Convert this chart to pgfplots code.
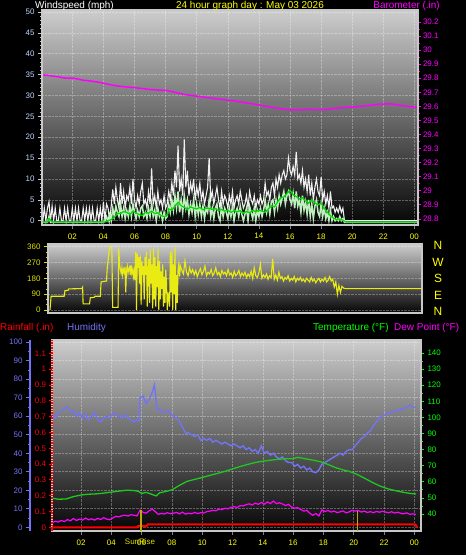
\documentclass[border=0pt]{standalone}
\usepackage{pgfplots}
\pgfplotsset{compat=1.18}
\usepackage{fontspec}
\setmainfont{Liberation Sans}
\definecolor{lgray}{RGB}{200,200,200}
\definecolor{tlblue}{RGB}{190,215,255}
\definecolor{yel}{RGB}{255,255,0}
\definecolor{yel2}{RGB}{222,222,0}
\definecolor{dirc}{RGB}{235,235,20}
\definecolor{mag}{RGB}{255,0,255}
\definecolor{hum}{RGB}{115,115,245}
\definecolor{tgreen}{RGB}{30,200,30}
\definecolor{lgreen}{RGB}{0,255,0}
\definecolor{palegreen}{RGB}{190,240,190}
\definecolor{avggreen}{RGB}{0,220,0}
\definecolor{sunc}{RGB}{190,170,0}
\definecolor{bgtop}{RGB}{205,205,205}
\definecolor{bgmid}{RGB}{90,90,90}
\definecolor{bgbot}{RGB}{5,5,5}
\pgfplotsset{
  mybase/.style={
    scale only axis, anchor=south west,
    /pgf/number format/assume math mode=true,
    ticklabel style={font=\fontsize{8}{9}\selectfont},
    tick align=outside,
    major tick length=4bp, minor tick length=2bp,
    grid style={densely dotted, white, opacity=0.3, line width=0.6bp},
  },
  bgA/.style={axis background/.style={shade, top color=bgtop, middle color=bgmid, bottom color=bgbot}},
}
\begin{document}
\begin{tikzpicture}
\useasboundingbox (0,0) rectangle (466bp,555bp);
\fill[black] (0,0) rectangle (466bp,555bp);

% ---------------- Panel 1: wind ----------------
\begin{axis}[mybase, bgA, at={(42bp,330bp)}, width=376bp, height=215bp,
  xmin=0.05, xmax=24.23, ymin=-1.03, ymax=50.48,
  xtick={2,4,6,8,10,12,14,16,18,20,22,24},
  xticklabels={02,04,06,08,10,12,14,16,18,20,22,00},
  ytick={0,5,10,15,20,25,30,35,40,45,50}, minor y tick num=4,
  xtick pos=left, ytick pos=left,
  xmajorgrids, ymajorgrids,
  axis line style={draw=lgray, line width=1.2bp},
  xticklabel style={text=yel, yshift=-1bp},
  yticklabel style={text=tlblue},
  tick style={draw=lgray, line width=0.6bp},
  major x tick style={draw=gray},
]
\addplot[white!94!black, line width=1.1bp] coordinates {
(0.1,0)(0.2,3)(0.3,0)(0.4,3)(0.5,4.5)(0.6,0)(0.7,3.5)(0.8,0)(0.9,3)(1.0,0)
(1.1,0)(1.2,3)(1.3,0)(1.4,0)(1.5,3)(1.6,0)(1.7,3)(1.8,0)(1.9,0)(2.0,3)
(2.1,0)(2.2,3)(2.3,0)(2.4,3)(2.5,0)(2.6,0)(2.7,3)(2.8,0)(2.9,3)(3.0,0)
(3.1,3)(3.2,0)(3.3,3)(3.4,0)(3.5,0)(3.6,3)(3.7,0)(3.8,3)(3.9,0)(4.0,4.5)
(4.1,0)(4.2,4)(4.3,3)(4.4,0)(4.5,3.5)(4.6,7.5)(4.7,4)(4.8,8)(4.9,5)(5.0,3)
(5.1,9)(5.2,4)(5.3,7)(5.4,3)(5.5,6)(5.6,5)(5.7,8)(5.8,4)(5.9,10)(6.0,5)
(6.1,3)(6.2,6)(6.3,4)(6.4,7)(6.5,9)(6.6,4)(6.7,5)(6.8,3)(6.9,7)(7.0,4)
(7.1,12.5)(7.2,4)(7.3,6)(7.4,3)(7.5,7)(7.6,4)(7.7,5)(7.8,3)(7.9,6)(8.0,3)
(8.1,4)(8.2,7)(8.3,5)(8.4,9)(8.5,6)(8.6,12)(8.7,8)(8.8,18)(8.9,7)(9.0,10)
(9.1,6)(9.2,19.5)(9.3,8)(9.4,12)(9.5,6)(9.6,9)(9.7,7)(9.8,10)(9.9,5)(10.0,8)
(10.1,6)(10.2,9)(10.3,5)(10.4,7)(10.5,4)(10.6,6)(10.7,8)(10.8,15)(10.9,5)(11.0,7)
(11.1,4)(11.2,6)(11.3,8)(11.4,5)(11.5,3)(11.6,7)(11.7,4)(11.8,6)(11.9,5)(12.0,3)
(12.1,6)(12.2,4)(12.3,7)(12.4,3)(12.5,5)(12.6,6)(12.7,4)(12.8,7)(12.9,5)(13.0,3)
(13.1,4)(13.2,6)(13.3,3)(13.4,7)(13.5,5)(13.6,4)(13.7,6)(13.8,3)(13.9,5)(14.0,4)
(14.1,6)(14.2,4)(14.3,5)(14.4,9)(14.5,6)(14.6,7)(14.7,5)(14.8,8)(14.9,9)(15.0,6)
(15.1,10)(15.2,8)(15.3,11)(15.4,9)(15.5,11)(15.6,12)(15.7,10)(15.8,11)(15.9,15)(16.0,12)
(16.1,11)(16.2,13)(16.3,11)(16.4,16.5)(16.5,10)(16.6,11)(16.7,9)(16.8,12)(16.9,8)(17.0,10)
(17.1,7)(17.2,11)(17.3,6)(17.4,9)(17.5,5)(17.6,8)(17.7,10)(17.8,7)(17.9,6)(18.0,10.5)
(18.1,5)(18.2,7)(18.3,4)(18.4,6)(18.5,3)(18.6,7)(18.7,3)(18.8,3.5)(18.9,2)(19.0,3)
(19.1,2)(19.2,3.5)(19.3,2)(19.4,3)(19.5,0)(24.2,0)};
\addplot[palegreen, line width=1.5bp] coordinates {
(0.1,-0.4)(0.4,-0.4)(0.5,1)(0.6,-0.4)(4.0,-0.4)
(4.1,0)(4.2,1)(4.3,0)(4.4,1.5)(4.5,0)(4.6,3)(4.7,1)(4.8,3.5)(4.9,2)(5.0,1)
(5.1,4)(5.2,1)(5.3,3)(5.4,0.5)(5.5,2.5)(5.6,1)(5.7,3.5)(5.8,1)(5.9,4)(6.0,2)
(6.1,0.5)(6.2,2.5)(6.3,1)(6.4,3)(6.5,3.5)(6.6,1)(6.7,2)(6.8,0.5)(6.9,3)(7.0,1)
(7.1,4)(7.2,1)(7.3,2.5)(7.4,0)(7.5,3)(7.6,1)(7.7,2)(7.8,0)(7.9,2)(8.0,0.5)
(8.1,1)(8.2,4)(8.3,2)(8.4,5)(8.5,2.5)(8.6,6)(8.7,3)(8.8,7)(8.9,2)(9.0,5)
(9.1,2)(9.2,6)(9.3,3)(9.4,5)(9.5,1.5)(9.6,4)(9.7,2)(9.8,5)(9.9,1)(10.0,4)
(10.1,1.5)(10.2,4)(10.3,1)(10.4,3.5)(10.5,0.5)(10.6,3)(10.7,2)(10.8,5)(10.9,1)(11.0,3)
(11.1,0.5)(11.2,3)(11.3,4)(11.4,1)(11.5,0)(11.6,3.5)(11.7,1)(11.8,3)(11.9,2)(12.0,0.5)
(12.1,3)(12.2,1)(12.3,3.5)(12.4,0)(12.5,2)(12.6,3)(12.7,1)(12.8,3.5)(12.9,1.5)(13.0,0)
(13.1,1.5)(13.2,3)(13.3,0)(13.4,3.5)(13.5,2)(13.6,0.5)(13.7,3)(13.8,0)(13.9,2.5)(14.0,1)
(14.1,3)(14.2,1)(14.3,2.5)(14.4,5)(14.5,2)(14.6,4)(14.7,1.5)(14.8,4.5)(14.9,5)(15.0,2)
(15.1,5)(15.2,3)(15.3,6)(15.4,4)(15.5,5.5)(15.6,7)(15.7,4)(15.8,6)(15.9,7)(16.0,5)
(16.1,4)(16.2,6.5)(16.3,3)(16.4,7)(16.5,3.5)(16.6,5)(16.7,2)(16.8,6)(16.9,2.5)(17.0,4.5)
(17.1,1.5)(17.2,5)(17.3,1)(17.4,4)(17.5,0.5)(17.6,3.5)(17.7,5)(17.8,2)(17.9,1)(18.0,4)
(18.1,1)(18.2,3)(18.3,0.5)(18.4,2)(18.5,0)(18.6,2.5)(18.7,0)(18.8,1)(18.9,0)(19.0,0.5)
(19.1,0)(19.2,1)(19.3,0)(19.4,0.5)(19.5,-0.4)(24.2,-0.4)};
\addplot[avggreen, line width=1.3bp] coordinates {
(0.1,-0.3)(0.4,-0.3)(0.5,0.5)(0.7,-0.3)(4.1,-0.3)(4.3,0)(4.5,0.3)(4.7,0.8)(4.9,1.8)(5.1,1.7)
(5.3,2.2)(5.5,2.0)(5.7,1.5)(5.9,2.3)(6.1,1.8)(6.3,1.5)(6.5,1.2)(6.7,2.0)(6.9,1.8)(7.1,2.3)
(7.3,1.7)(7.5,1.9)(7.7,1.2)(7.9,1.0)(8.1,1.2)(8.2,2.8)(8.4,2.5)(8.6,3.5)(8.8,4.4)(9.0,3.6)
(9.2,3.2)(9.4,2.7)(9.6,3.3)(9.8,3.0)(10.0,2.8)(10.2,3.2)(10.4,2.6)(10.6,3.0)(10.8,3.0)(11.0,2.7)
(11.2,2.9)(11.4,2.4)(11.6,2.7)(11.8,2.3)(12.0,2.5)(12.2,2.0)(12.4,2.4)(12.6,2.1)(12.8,2.4)(13.0,1.8)
(13.2,2.2)(13.4,1.9)(13.6,2.4)(13.8,2.2)(14.0,2.5)(14.2,2.3)(14.4,2.0)(14.6,2.8)(14.8,3.6)(15.0,3.3)
(15.2,4.5)(15.4,5.5)(15.6,5.7)(15.8,6.5)(16.0,7.3)(16.2,6.2)(16.4,5.8)(16.6,5.2)(16.8,5.5)(17.0,4.8)
(17.2,4.2)(17.4,5.0)(17.6,4.3)(17.8,3.8)(18.0,4.2)(18.2,3.0)(18.4,2.0)(18.6,1.2)(18.8,0.6)(19.0,0.2)
(19.2,0.4)(19.4,0.1)(19.6,-0.3)(24.2,-0.3)};
\end{axis}

\begin{axis}[mybase, at={(42bp,330bp)}, width=376bp, height=215bp,
  xmin=0.05, xmax=24.23, ymin=28.757, ymax=30.285,
  axis x line=none, axis y line*=right,
  ytick={28.8,28.9,29,29.1,29.2,29.3,29.4,29.5,29.6,29.7,29.8,29.9,30,30.1,30.2},
  yticklabels={28.8,28.9,29,29.1,29.2,29.3,29.4,29.5,29.6,29.7,29.8,29.9,30,30.1,30.2},
  minor y tick num=1, major tick length=3bp,
  y axis line style={draw=lgray, line width=1.2bp},
  ytick style={draw=mag, line width=0.8bp},
  yticklabel style={text=mag, xshift=-1.5bp},
]
\addplot[mag, line width=1.5bp] coordinates {
(0.13,29.824)(0.6,29.817)(1.1,29.81)(1.6,29.80)(2.1,29.80)(2.7,29.786)(3.2,29.78)(3.8,29.77)
(4.3,29.757)(4.85,29.746)(5.3,29.74)(5.9,29.734)(6.4,29.728)(7.0,29.72)(7.5,29.716)(8.1,29.713)
(8.6,29.70)(9.1,29.687)(9.6,29.678)(10.2,29.67)(10.7,29.662)(11.3,29.654)(11.8,29.647)(12.4,29.64)
(12.9,29.63)(13.4,29.621)(14.0,29.61)(14.5,29.60)(15.0,29.59)(15.6,29.58)(16.2,29.574)(16.6,29.576)
(17.1,29.58)(17.6,29.577)(18.15,29.576)(18.7,29.583)(19.2,29.59)(19.8,29.594)(20.5,29.60)(21.2,29.608)
(21.8,29.616)(22.4,29.618)(22.9,29.612)(23.3,29.604)(23.8,29.598)(24.15,29.595)};
\end{axis}

% ---------------- Panel 2: wind direction ----------------
\begin{axis}[mybase, bgA, at={(48bp,242bp)}, width=374bp, height=69bp,
  xmin=0, xmax=24.3, ymin=-17, ymax=375.4,
  xtick=\empty, ytick={0,90,180,270,360}, minor y tick num=2, ytick pos=left,
  ymajorgrids,
  axis line style={draw=lgray, line width=1.2bp},
  yticklabel style={text=yel2},
  ytick style={draw=yel2, line width=0.8bp},
]
\addplot[dirc, line width=1.1bp] coordinates {
(0.13,0)(0.2,78)(1.05,78)(1.1,110)(1.3,112)(1.35,120)(2.2,122)(2.25,130)(2.28,35)(2.7,35)
(2.75,70)(3.0,72)(3.05,78)(3.4,78)(3.45,160)(3.8,165)(3.85,240)(4.0,352)(4.1,358)(4.15,350)
(4.2,15)(4.55,15)(4.6,350)(4.65,260)(4.7,230)(4.75,210)(4.8,240)(4.85,200)(4.9,230)(4.95,215)
(5.0,245)(5.05,100)(5.1,225)(5.15,250)(5.2,210)(5.25,235)(5.3,245)(5.35,200)(5.4,255)(5.45,210)
(5.5,230)(5.55,190)(5.6,225)(5.65,170)(5.7,330)(5.75,0)(5.8,320)(5.85,240)(5.9,300)(5.95,150)
(6.0,310)(6.05,30)(6.1,280)(6.15,200)(6.2,250)(6.25,60)(6.3,300)(6.35,200)(6.4,330)(6.45,20)
(6.5,230)(6.55,290)(6.6,40)(6.65,340)(6.7,150)(6.75,260)(6.8,10)(6.85,350)(6.9,60)(6.95,300)
(7.0,20)(7.05,250)(7.1,130)(7.15,345)(7.2,0)(7.25,280)(7.3,60)(7.35,220)(7.4,120)(7.45,260)
(7.5,20)(7.55,190)(7.6,40)(7.65,230)(7.7,150)(7.75,0)(7.8,100)(7.85,60)(7.9,20)(7.95,330)
(8.0,100)(8.05,340)(8.1,0)(8.15,260)(8.2,90)(8.25,355)(8.3,0)(8.35,200)(8.4,40)(8.45,230)
(8.5,260)(8.55,190)
(8.6,250)(8.7,225)(8.8,205)(8.9,280)(9.0,215)(9.1,195)(9.2,240)(9.3,210)(9.4,230)(9.5,200)
(9.6,225)(9.7,190)(9.8,215)(9.9,235)(10.0,200)(10.1,220)(10.2,250)(10.3,195)(10.4,215)(10.5,205)
(10.6,230)(10.7,195)(10.8,210)(10.9,240)(11.0,200)(11.1,215)(11.2,190)(11.3,225)(11.4,205)(11.5,215)
(11.6,195)(11.7,230)(11.8,200)(11.9,210)(12.0,185)(12.1,220)(12.2,195)(12.3,205)(12.4,225)(12.5,190)
(12.6,210)(12.7,195)(12.8,215)(12.9,185)(13.0,205)(13.1,190)(13.2,220)(13.3,180)(13.4,240)(13.5,195)
(13.6,185)(13.7,210)(13.8,260)(13.9,180)(14.0,200)(14.1,185)(14.2,205)(14.3,175)(14.4,195)(14.5,185)
(14.6,290)(14.7,175)(14.8,200)(14.9,170)(15.0,215)(15.1,180)(15.2,190)(15.3,165)(15.4,185)(15.5,175)
(15.6,195)(15.7,165)(15.8,180)(15.9,170)(16.0,190)(16.1,160)(16.2,180)(16.3,170)(16.4,185)(16.5,165)
(16.6,175)(16.7,160)(16.8,180)(16.9,170)(17.0,160)(17.1,185)(17.2,165)(17.3,175)(17.4,155)(17.5,170)
(17.6,180)(17.7,160)(17.8,175)(17.9,165)(18.0,185)(18.1,160)(18.2,170)(18.3,190)(18.4,165)(18.5,175)
(18.6,130)(18.7,160)(18.8,90)(18.9,140)(19.0,100)(19.1,135)(19.2,125)(19.3,122)(24.3,122)};
\end{axis}

% ---------------- Panel 3: humidity / temperature / rain ----------------
\begin{axis}[mybase, bgA, at={(52bp,24bp)}, width=369bp, height=191bp,
  xmin=0.086, xmax=24.44, ymin=-2, ymax=101.2,
  xtick={2,4,6,8,10,12,14,16,18,20,22,24},
  xticklabels={02,04,06,08,10,12,14,16,18,20,22,00},
  ytick={0,10,20,30,40,50,60,70,80,90,100}, yticklabels={},
  xtick pos=left, ytick pos=left,
  xmajorgrids, ymajorgrids,
  axis line style={draw=lgray, line width=1.2bp},
  xticklabel style={text=yel, yshift=-1.5bp},
  ytick style={draw=none},
  major x tick style={draw=gray, line width=0.6bp},
]
\addplot[hum, line width=1.4bp] coordinates {
(0.1,61)(0.3,59)(0.5,62)(0.7,63)(0.9,64)(1.1,65)(1.3,62)(1.5,63)(1.7,60)(1.9,62)
(2.1,59)(2.3,61)(2.5,58)(2.7,60)(2.9,62)(3.1,58)(3.3,57)(3.5,59)(3.7,60)(3.9,59)
(4.1,62)(4.3,61)(4.5,60)(4.7,59)(4.9,61)(5.1,59)(5.3,58)(5.5,57)(5.7,58)(5.85,57.5)
(5.9,70)(6.1,71)(6.3,67)(6.5,69)(6.7,73)(6.85,77)(7.0,64)(7.1,64)(7.3,63)(7.5,62)
(7.7,63)(7.9,62)(8.1,60)(8.3,59)(8.5,57)(8.7,54)(8.9,51)(9.1,51)(9.3,50)(9.5,49)
(9.7,50)(9.9,47)(10.1,48)(10.3,47)(10.5,48)(10.7,46)(10.9,47)(11.1,46)(11.3,45)(11.5,46)
(11.7,45)(11.9,44)(12.1,45)(12.3,44)(12.5,43)(12.7,44)(12.9,42)(13.1,43)(13.3,41)(13.5,42)
(13.7,40)(13.9,44)(14.1,40)(14.3,41)(14.5,39)(14.7,40)(14.9,38)(15.1,37)(15.3,38)(15.5,36)
(15.7,35)(15.9,35)(16.1,33)(16.3,34)(16.5,32)(16.7,33)(16.9,31)(17.1,32)(17.3,30)(17.5,29.5)
(17.7,31)(17.9,34)(18.1,35)(18.3,36)(18.5,37)(18.7,38)(18.9,39)(19.1,40)(19.3,39)(19.5,41)
(19.7,42)(19.9,42)(20.1,44)(20.3,46)(20.5,48)(20.7,49)(20.9,51)(21.1,52)(21.3,55)(21.5,57)
(21.7,59)(21.9,60)(22.1,61)(22.3,62)(22.5,62)(22.7,63)(22.9,63)(23.1,64)(23.3,64)(23.5,65)
(23.7,66)(23.9,65)(24.1,65)};
\end{axis}

\begin{axis}[mybase, at={(52bp,24bp)}, width=369bp, height=191bp,
  xmin=0.086, xmax=24.44, ymin=29.44, ymax=148.1,
  axis x line=none, axis y line*=right,
  ytick={40,50,60,70,80,90,100,110,120,130,140}, minor y tick num=1,
  y axis line style={draw=lgray, line width=1.2bp},
  ytick style={draw=lgreen, line width=0.8bp}, major tick length=3bp,
  yticklabel style={text=lgreen},
]
\addplot[tgreen, line width=1.3bp] coordinates {
(0.1,49.8)(0.5,49.2)(1.0,49.3)(1.5,50.8)(2.0,51.8)(2.5,52.3)(3.0,52.5)(3.5,53.0)(4.0,53.6)(4.5,54.2)
(5.0,54.8)(5.5,54.6)(5.8,54.0)(6.0,52.8)(6.3,53.4)(6.6,52.5)(6.95,51.2)(7.2,53.2)(7.6,54.0)(8.0,55.0)
(8.5,57.8)(9.0,60.3)(9.5,61.5)(10.0,62.7)(10.5,64.0)(11.0,65.2)(11.5,66.5)(12.0,68.0)(12.5,69.5)(13.0,70.8)
(13.5,72.0)(14.0,72.8)(14.5,73.4)(15.0,74.0)(15.5,74.3)(16.0,74.4)(16.3,75.2)(16.8,74.3)(17.3,73.5)(17.8,72.5)
(18.3,70.8)(18.8,68.8)(19.3,67.4)(19.7,66.5)(20.2,64.7)(20.7,62.3)(21.2,59.8)(21.7,57.5)(22.2,55.8)(22.7,54.6)
(23.2,53.6)(23.7,52.8)(24.1,52.4)};
\addplot[mag, line width=1.2bp] coordinates {
(0.1,34.6)(0.3,35.5)(0.5,35)(0.7,36)(0.9,35.3)(1.1,36.5)(1.3,35.8)(1.5,37.2)(1.7,36)(1.9,36.8)
(2.1,36.2)(2.3,37.5)(2.5,36.4)(2.7,37)(2.9,36.2)(3.1,37.3)(3.3,36.6)(3.5,37.8)(3.7,36.8)(3.9,36.4)
(4.1,37.5)(4.3,38.6)(4.5,38.2)(4.7,38.9)(4.9,39.3)(5.1,38.7)(5.3,39.6)(5.5,39.2)(5.7,38.8)(5.9,42.5)
(6.1,41)(6.3,40.5)(6.5,42)(6.7,43)(6.9,41.5)(7.1,39.8)(7.3,40.3)(7.5,40)(7.7,40.8)(7.9,40.2)
(8.1,40.5)(8.3,41)(8.5,40.1)(8.7,41.2)(8.9,39.9)(9.1,40.5)(9.3,40.1)(9.5,41)(9.7,40.3)(9.9,40.8)
(10.1,40.6)(10.3,41.5)(10.5,41.8)(10.7,42.3)(10.9,42)(11.1,43)(11.3,42.7)(11.5,43.6)(11.7,43.2)(11.9,44.1)
(12.1,44.6)(12.3,44)(12.5,45.2)(12.7,45)(12.9,45.8)(13.1,46.3)(13.3,45.6)(13.5,46.8)(13.7,46)(13.9,47.2)
(14.1,46.1)(14.3,47.5)(14.5,46.5)(14.7,48)(14.9,46.4)(15.1,47)(15.3,46.2)(15.5,45.3)(15.7,46)(15.9,44.2)
(16.1,43.6)(16.3,44)(16.5,42.8)(16.7,41.8)(16.9,42.3)(17.1,40.5)(17.3,39.2)(17.5,40.3)(17.7,38.8)(17.9,42.6)
(18.1,41.5)(18.3,42.2)(18.5,41.2)(18.7,41.8)(18.9,40.9)(19.1,41.3)(19.3,41.9)(19.5,40.7)(19.7,41.3)(19.9,42.3)
(20.1,41.8)(20.3,42.2)(20.5,41.2)(20.7,41.8)(20.9,40.9)(21.1,41.5)(21.3,40.8)(21.5,41.6)(21.7,41.1)(21.9,41.7)
(22.1,41.2)(22.3,40.8)(22.5,41.4)(22.7,40.6)(22.9,41.1)(23.1,40.4)(23.3,40.1)(23.5,40.7)(23.7,39.8)(23.9,40.1)
(24.1,39.7)};
\end{axis}

\begin{axis}[mybase, at={(52bp,24bp)}, width=369bp, height=191bp,
  xmin=0.086, xmax=24.44, ymin=-0.0234, ymax=1.185,
  axis x line=none, axis y line*=left,
  ytick={0,0.1,0.2,0.3,0.4,0.5,0.6,0.7,0.8,0.9,1,1.1},
  yticklabels={0,0.1,0.2,0.3,0.4,0.5,0.6,0.7,0.8,0.9,1,1.1},
  y axis line style={draw=red, densely dotted, line width=1.5bp},
  ytick style={draw=red, line width=0.8bp}, major tick length=2.5bp,
  yticklabel style={text=red},
]
\addplot[red, line width=2bp] coordinates {
(0.1,0)(5.7,0)(5.75,0.008)(6.35,0.008)(6.4,0.019)(24.05,0.019)(24.2,0)};
\addplot[sunc, line width=1.2bp] coordinates {(5.96,-0.03)(5.96,0.11)};
\addplot[sunc, line width=1.2bp] coordinates {(20.27,-0.03)(20.27,0.1)};
\end{axis}

\begin{axis}[mybase, at={(30bp,24bp)}, width=1bp, height=191bp,
  xmin=0, xmax=1, ymin=-2, ymax=101.2,
  axis x line=none, axis y line*=left,
  ytick={0,10,20,30,40,50,60,70,80,90,100}, minor y tick num=1,
  y axis line style={draw=hum, line width=2bp},
  ytick style={draw=hum, line width=0.8bp},
  yticklabel style={text=hum},
]
\end{axis}

% ---------------- Texts ----------------
\begin{scope}[every node/.style={inner sep=0pt, font=\fontsize{10}{12}\selectfont}]
\node[anchor=base west, text=white] at (35bp,546bp) {Windspeed (mph)};
\node[anchor=base, text=yel] at (250bp,546bp) {24 hour graph day : May 03 2026};
\node[anchor=base east, text=mag] at (440bp,546bp) {Barometer (.in)};
\node[anchor=base west, text=red] at (0bp,224bp) {Rainfall (.in)};
\node[anchor=base west, text=hum] at (67bp,224bp) {Humidity};
\node[anchor=base west, text=lgreen] at (313bp,224bp) {Temperature (°F)};
\node[anchor=base west, text=mag] at (394bp,224bp) {Dew Point (°F)};
\end{scope}
\begin{scope}[every node/.style={inner sep=0pt, text=yel, font=\fontsize{12}{14}\selectfont}]
\node at (438bp,310bp) {N};
\node at (438bp,293bp) {W};
\node at (438bp,277bp) {S};
\node at (438bp,260bp) {E};
\node at (438bp,244bp) {N};
\end{scope}
\node[anchor=base, inner sep=0pt, text=yel2, font=\fontsize{8}{9}\selectfont] at (140bp,10.7bp) {SunRise};
\end{tikzpicture}
\end{document}
